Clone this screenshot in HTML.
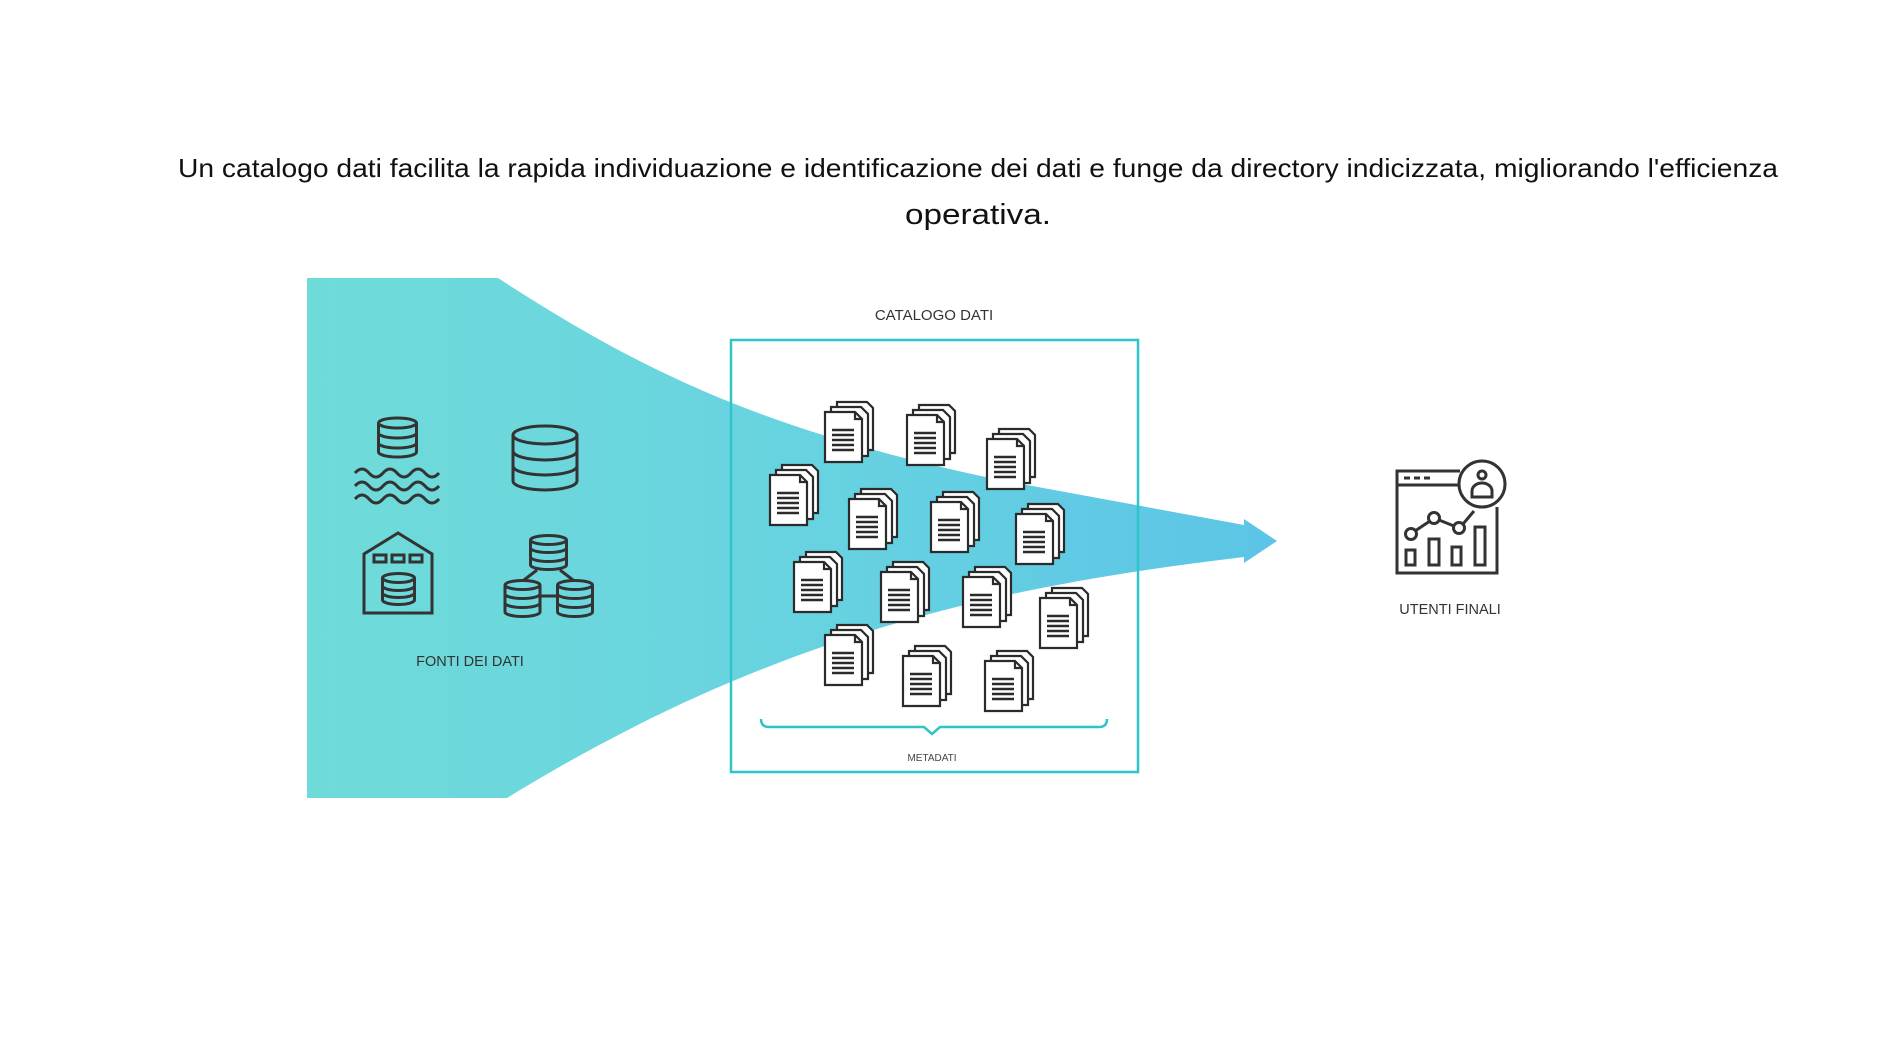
<!DOCTYPE html>
<html><head><meta charset="utf-8"><style>
html,body{margin:0;padding:0;background:#fff;}
svg{display:block;}
</style></head><body>
<svg width="1884" height="1060" viewBox="0 0 1884 1060" xmlns="http://www.w3.org/2000/svg" font-family="Liberation Sans, sans-serif">
<defs>
<linearGradient id="g" x1="0" y1="0" x2="1" y2="0">
<stop offset="0" stop-color="#6fdbd9"/><stop offset="0.5" stop-color="#68d3e0"/><stop offset="1" stop-color="#5cc4e6"/>
</linearGradient>
<g id="doc" stroke="#2b2b2b" stroke-width="2.2" fill="#fff">
<path d="M12 0 H42 L48 6 V48 H12 Z"/>
<path d="M6 5 H36 L43 12 V54 H6 Z"/>
<path d="M0 10 H30 L37 17 V60 H0 Z"/>
<path d="M30 10 V17 H37" fill="none"/>
<g stroke-width="2.4"><path d="M7 28H29M7 33H29M7 38H29M7 43H29M7 48H29"/></g>
</g>
</defs>

<text x="178" y="177" font-size="26" fill="#111" textLength="1600" lengthAdjust="spacingAndGlyphs">Un catalogo dati facilita la rapida individuazione e identificazione dei dati e funge da directory indicizzata, migliorando l'efficienza</text>
<text x="905" y="224" font-size="29" fill="#111" textLength="146" lengthAdjust="spacingAndGlyphs">operativa.</text>

<!-- funnel -->
<path d="M307 278 H498 C640 370 760 430 1000 480 L1244 525 L1244 519 L1277 541 L1244 563 L1244 557 C1010 585 780 630 507 798 H307 Z" fill="url(#g)"/>

<!-- box -->
<rect x="731" y="340" width="407" height="432" fill="none" stroke="#2ec4c9" stroke-width="2.5"/>
<text x="934" y="320" font-size="15" fill="#333" text-anchor="middle">CATALOGO DATI</text>
<path d="M761 719 Q761 727 769 727 H924 L932 734 L940 727 H1099 Q1107 727 1107 719" fill="none" stroke="#2ec4c9" stroke-width="2.5"/>
<text x="932" y="761" font-size="10" fill="#444" text-anchor="middle">METADATI</text>

<!-- docs -->
<use href="#doc" x="825" y="402"/>
<use href="#doc" x="907" y="405"/>
<use href="#doc" x="987" y="429"/>
<use href="#doc" x="770" y="465"/>
<use href="#doc" x="849" y="489"/>
<use href="#doc" x="931" y="492"/>
<use href="#doc" x="1016" y="504"/>
<use href="#doc" x="794" y="552"/>
<use href="#doc" x="881" y="562"/>
<use href="#doc" x="963" y="567"/>
<use href="#doc" x="1040" y="588"/>
<use href="#doc" x="825" y="625"/>
<use href="#doc" x="903" y="646"/>
<use href="#doc" x="985" y="651"/>

<!-- source icons -->
<g fill="none" stroke="#333" stroke-width="3">
<ellipse cx="397.5" cy="423" rx="19" ry="5"/>
<path d="M378.5 423 V452 A19 5 0 0 0 416.5 452 V423 M378.5 433 A19 5 0 0 0 416.5 433 M378.5 443 A19 5 0 0 0 416.5 443"/>
<path d="M355 473 q7 -8 14 0 t14 0 t14 0 t14 0 t14 0 t14 0"/>
<path d="M355 486 q7 -8 14 0 t14 0 t14 0 t14 0 t14 0 t14 0"/>
<path d="M355 499 q7 -8 14 0 t14 0 t14 0 t14 0 t14 0 t14 0"/>
<ellipse cx="545" cy="435" rx="32" ry="9"/>
<path d="M513 435 V481 A32 9 0 0 0 577 481 V435 M513 451 A32 9 0 0 0 577 451 M513 466 A32 9 0 0 0 577 466"/>
<path d="M364 613 V554 L398 533 L432 554 V613 Z"/>
<rect x="374" y="555" width="12" height="7"/><rect x="392" y="555" width="12" height="7"/><rect x="410" y="555" width="12" height="7"/>
<ellipse cx="398.5" cy="578" rx="16" ry="4.5"/>
<path d="M382.5 578 V600 A16 4.5 0 0 0 414.5 600 V578 M382.5 586 A16 4.5 0 0 0 414.5 586 M382.5 593 A16 4.5 0 0 0 414.5 593"/>
<ellipse cx="548.5" cy="540" rx="18" ry="4.5"/>
<path d="M530.5 540 V565 A18 4.5 0 0 0 566.5 565 V540 M530.5 548 A18 4.5 0 0 0 566.5 548 M530.5 557 A18 4.5 0 0 0 566.5 557"/>
<ellipse cx="522.5" cy="585" rx="17.5" ry="4.5"/>
<path d="M505 585 V612 A17.5 4.5 0 0 0 540 612 V585 M505 594 A17.5 4.5 0 0 0 540 594 M505 603 A17.5 4.5 0 0 0 540 603"/>
<ellipse cx="575" cy="585" rx="17.5" ry="4.5"/>
<path d="M557.5 585 V612 A17.5 4.5 0 0 0 592.5 612 V585 M557.5 594 A17.5 4.5 0 0 0 592.5 594 M557.5 603 A17.5 4.5 0 0 0 592.5 603"/>
<path d="M537 570 L524 580 M560 570 L573 580 M540 596 H557"/>
</g>
<text x="470" y="666" font-size="14.5" fill="#333" text-anchor="middle">FONTI DEI DATI</text>

<!-- users icon -->
<g fill="none" stroke="#333" stroke-width="3">
<path d="M1460 471 H1397 V573 H1497 V507"/>
<path d="M1397 485 H1460"/>
<path d="M1404 478 h6 M1414 478 h6 M1424 478 h6"/>
<circle cx="1482" cy="484" r="23" fill="#fff"/>
<circle cx="1482" cy="475" r="4"/>
<path d="M1472 497 V491 A10 8 0 0 1 1492 491 V497 Z"/>
<circle cx="1411" cy="534" r="5.5"/><circle cx="1434" cy="518" r="5.5"/><circle cx="1459" cy="528" r="5.5"/>
<path d="M1415 531 L1430 521 M1439 520 L1454 526 M1463 524 L1474 511"/>
<rect x="1406" y="550" width="9" height="15"/>
<rect x="1429" y="539" width="10" height="26"/>
<rect x="1452" y="547" width="9" height="18"/>
<rect x="1475" y="527" width="10" height="38"/>
</g>
<text x="1450" y="614" font-size="14.5" fill="#333" text-anchor="middle">UTENTI FINALI</text>
</svg>
</body></html>
